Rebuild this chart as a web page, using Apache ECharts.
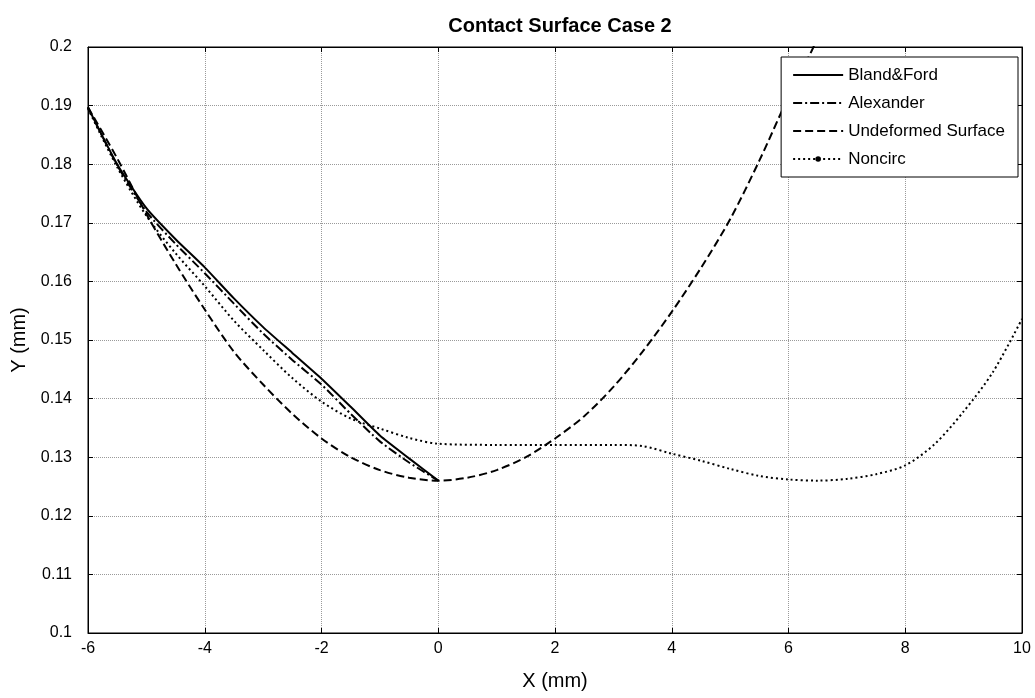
<!DOCTYPE html>
<html>
<head>
<meta charset="utf-8">
<script src="https://cdn.jsdelivr.net/npm/echarts@6/dist/echarts.min.js"></script>
<style>
  html, body { margin: 0; padding: 0; background: #fff; }
  #chart { width: 1035px; height: 698px; }
</style>
</head>
<body>
<div id="chart"></div>
<script>
// values
const surfX = [-6, -5.5, -5, -4.5, -4, -3.5, -3, -2.5, -2, -1.5, -1, -0.5, 0, 0.5, 1, 1.5, 2, 2.5, 3, 3.5, 4, 4.5, 5, 5.5, 6, 6.4, 6.45];
const surfY = [0.1897, 0.181, 0.1715, 0.163, 0.1552, 0.148, 0.1424, 0.1374, 0.1332, 0.1300, 0.1278, 0.1265, 0.126, 0.1265, 0.1278, 0.1300, 0.1332, 0.137, 0.1420, 0.148, 0.1548, 0.1623, 0.1706, 0.1806, 0.1915, 0.1994, 0.2005];

const leftX = [-6, -5.5, -5, -4.5, -4, -3.5, -3, -2.5, -2, -1.5, -1, -0.5, 0];
const blandY = [0.1897, 0.1800, 0.1725, 0.1672, 0.1624, 0.1571, 0.1522, 0.1478, 0.1434, 0.1386, 0.1337, 0.1298, 0.126];
const alexY = [0.1897, 0.1798, 0.1719, 0.1664, 0.1614, 0.1562, 0.1511, 0.1466, 0.1424, 0.1374, 0.1327, 0.1291, 0.126];

const noncX = [-6, -5.5, -5, -4.5, -4, -3.5, -3, -2.5, -2, -1.5, -1, -0.5, 0, 1, 2, 3, 3.5, 4, 4.5, 5, 5.5, 6, 6.5, 7, 7.5, 8, 8.5, 9, 9.5, 10];
const noncY = [0.1895, 0.1795, 0.1712, 0.1648, 0.1592, 0.1533, 0.1483, 0.1435, 0.1395, 0.1366, 0.1349, 0.1333, 0.1323, 0.1321, 0.1321, 0.1321, 0.1319, 0.1306, 0.1294, 0.128, 0.1268, 0.1262, 0.126, 0.1263, 0.1271, 0.1286, 0.1322, 0.1378, 0.1445, 0.1536];

const seriesNames = ['Bland&Ford', 'Alexander', 'Undeformed Surface', 'Noncirc'];

const pairs = (xs, ys) => xs.map((x, i) => [x, ys[i]]);
const FONT = '"Liberation Sans", Arial, sans-serif';

const chart = echarts.init(document.getElementById('chart'));

const tickStyle = { inside: true, length: 5, lineStyle: { color: '#000' } };
const gridLine = { show: true, lineStyle: { color: '#9a9a9a', type: [1, 1], width: 1 } };
const noDot = { color: 'rgba(0,0,0,0)', borderColor: 'rgba(0,0,0,0)', borderWidth: 0 };

chart.setOption({
  animation: false,
  backgroundColor: '#fff',
  title: {
    text: 'Contact Surface Case 2',
    left: 555,
    textAlign: 'center',
    top: 11,
    textStyle: { fontFamily: FONT, fontSize: 20, fontWeight: 'bold', color: '#000' }
  },
  legend: {
    data: [
      { name: seriesNames[0], itemStyle: noDot },
      { name: seriesNames[1], itemStyle: noDot },
      { name: seriesNames[2], itemStyle: noDot },
      { name: seriesNames[3] }
    ],
    orient: 'vertical',
    right: 17,
    top: 57,
    align: 'left',
    backgroundColor: '#fff',
    borderColor: '#000',
    borderWidth: 1,
    borderRadius: 0,
    padding: [8, 13, 8, 11],
    itemWidth: 50,
    itemHeight: 7,
    itemGap: 8,
    itemTextGap: 5,
    itemStyle: { color: '#000' },
    textStyle: { fontFamily: FONT, fontSize: 17, lineHeight: 20, color: '#000' }
  },
  grid: {
    left: 88, right: 13, top: 47, bottom: 65,
    show: true, borderColor: '#000', borderWidth: 1
  },
  xAxis: [{
    type: 'value',
    min: -6, max: 10, interval: 2,
    name: 'X (mm)',
    nameLocation: 'middle',
    nameGap: 38,
    nameTextStyle: { fontFamily: FONT, fontSize: 20, color: '#000' },
    axisLine: { show: true, onZero: false, lineStyle: { color: '#000' } },
    axisTick: tickStyle,
    axisLabel: { fontFamily: FONT, fontSize: 16, color: '#000', margin: 8 },
    splitLine: gridLine
  }, {
    type: 'value',
    position: 'top',
    min: -6, max: 10, interval: 2,
    axisLine: { show: true, onZero: false, lineStyle: { color: '#000' } },
    axisTick: tickStyle,
    axisLabel: { show: false },
    splitLine: { show: false }
  }],
  yAxis: [{
    type: 'value',
    min: 0.1, max: 0.2, interval: 0.01,
    name: 'Y (mm)',
    nameLocation: 'middle',
    nameGap: 59,
    nameTextStyle: { fontFamily: FONT, fontSize: 20, color: '#000' },
    axisLine: { show: true, onZero: false, lineStyle: { color: '#000' } },
    axisTick: tickStyle,
    axisLabel: {
      fontFamily: FONT, fontSize: 16, color: '#000', margin: 16,
      formatter: v => String(+v.toFixed(2))
    },
    splitLine: gridLine
  }, {
    type: 'value',
    position: 'right',
    min: 0.1, max: 0.2, interval: 0.01,
    axisLine: { show: true, onZero: false, lineStyle: { color: '#000' } },
    axisTick: tickStyle,
    axisLabel: { show: false },
    splitLine: { show: false }
  }],
  series: [
    {
      name: 'Bland&Ford',
      type: 'line',
      symbol: 'none',
      data: pairs(leftX, blandY),
      smooth: 0.2,
      itemStyle: { color: '#000' },
      lineStyle: { color: '#000', width: 2, type: 'solid' }
    },
    {
      name: 'Alexander',
      type: 'line',
      symbol: 'none',
      data: pairs(leftX, alexY),
      smooth: 0.2,
      itemStyle: { color: '#000' },
      lineStyle: { color: '#000', width: 2, type: [9, 3, 2, 3] }
    },
    {
      name: 'Undeformed Surface',
      type: 'line',
      symbol: 'none',
      data: pairs(surfX, surfY),
      smooth: 0.3,
      itemStyle: { color: '#000' },
      lineStyle: { color: '#000', width: 2, type: [8, 4] }
    },
    {
      name: 'Noncirc',
      type: 'line',
      symbol: 'circle',
      symbolSize: 6,
      showSymbol: false,
      data: pairs(noncX, noncY),
      smooth: 0.3,
      itemStyle: { color: '#000' },
      lineStyle: { color: '#000', width: 2, type: [2, 3] }
    }
  ]
});
</script>
</body>
</html>
